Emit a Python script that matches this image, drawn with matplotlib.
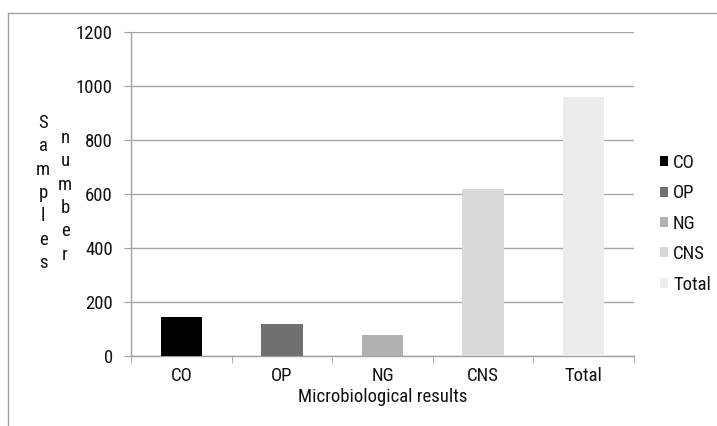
import matplotlib
matplotlib.use("Agg")
import matplotlib.pyplot as plt
from matplotlib.lines import Line2D
from matplotlib.patches import Patch

plt.rcParams['font.family'] = ['Roboto Condensed', 'DejaVu Sans']
plt.rcParams['font.weight'] = 'normal'
plt.rcParams['text.color'] = '#111111'
plt.rcParams['xtick.color'] = '#111111'
plt.rcParams['ytick.color'] = '#111111'
plt.rcParams['axes.labelcolor'] = '#111111'

categories = ['CO', 'OP', 'NG', 'CNS', 'Total']
values = [144, 119, 78, 618, 959]
colors = ['#000000', '#707070', '#b0b0b0', '#d9d9d9', '#ececec']
yticks = [0, 200, 400, 600, 800, 1000, 1200]

FS = 13.5
W, H = 717, 426
fig = plt.figure(figsize=(W / 100, H / 100), dpi=100)
ax = fig.add_axes([131 / W, 1 - 356 / H, (634 - 131) / W, (356 - 32) / H])

x = list(range(len(categories)))
ax.bar(x, values, width=0.41, color=colors, zorder=3)

ax.set_xlim(-0.5, len(categories) - 0.5)
ax.set_ylim(0, 1200)
ax.set_yticks(yticks)
ax.set_yticklabels([str(v) for v in yticks], fontsize=FS)
ax.set_xticks(x)
ax.set_xticklabels(categories, fontsize=FS)
ax.set_xticks([i - 0.5 for i in range(len(categories) + 1)], minor=True)
ax.tick_params(axis='x', which='major', length=0, pad=8)
ax.tick_params(axis='x', which='minor', length=5, color='#a0a0a0', direction='out')
ax.tick_params(axis='y', length=5, color='#a0a0a0', pad=8)
ax.yaxis.grid(True, color='#a6a6a6', linewidth=1, zorder=0)
ax.set_axisbelow(True)
for s in ['top', 'right']:
    ax.spines[s].set_visible(False)
for s in ['left', 'bottom']:
    ax.spines[s].set_color('#a0a0a0')
    ax.spines[s].set_linewidth(1)

ax.set_xlabel('Microbiological results', fontsize=FS, labelpad=2)

# stacked vertical y label in two columns
fig.text(43 / W, 1 - 114 / H, '\n'.join('Samples'), fontsize=FS, ha='center', va='top', linespacing=1.38)
fig.text(65 / W, 1 - 129 / H, '\n'.join('number'), fontsize=FS, ha='center', va='top', linespacing=1.38)

handles = [Patch(facecolor=c, edgecolor='none') for c in colors]
fig.legend(handles, categories, loc='upper left', bbox_to_anchor=(660 / W, 1 - 154 / H),
           frameon=False, fontsize=FS, handlelength=0.45, handleheight=0.45,
           handletextpad=0.25, labelspacing=0.66, borderaxespad=0, borderpad=0)

# outer chart frame
fig.add_artist(Line2D([8 / W, 1.0], [1 - 13 / H, 1 - 13 / H], color='#a0a0a0', linewidth=1, transform=fig.transFigure))
fig.add_artist(Line2D([8 / W, 8 / W], [1 - 13 / H, 0.0], color='#a0a0a0', linewidth=1, transform=fig.transFigure))

fig.savefig('out.png', dpi=100)
